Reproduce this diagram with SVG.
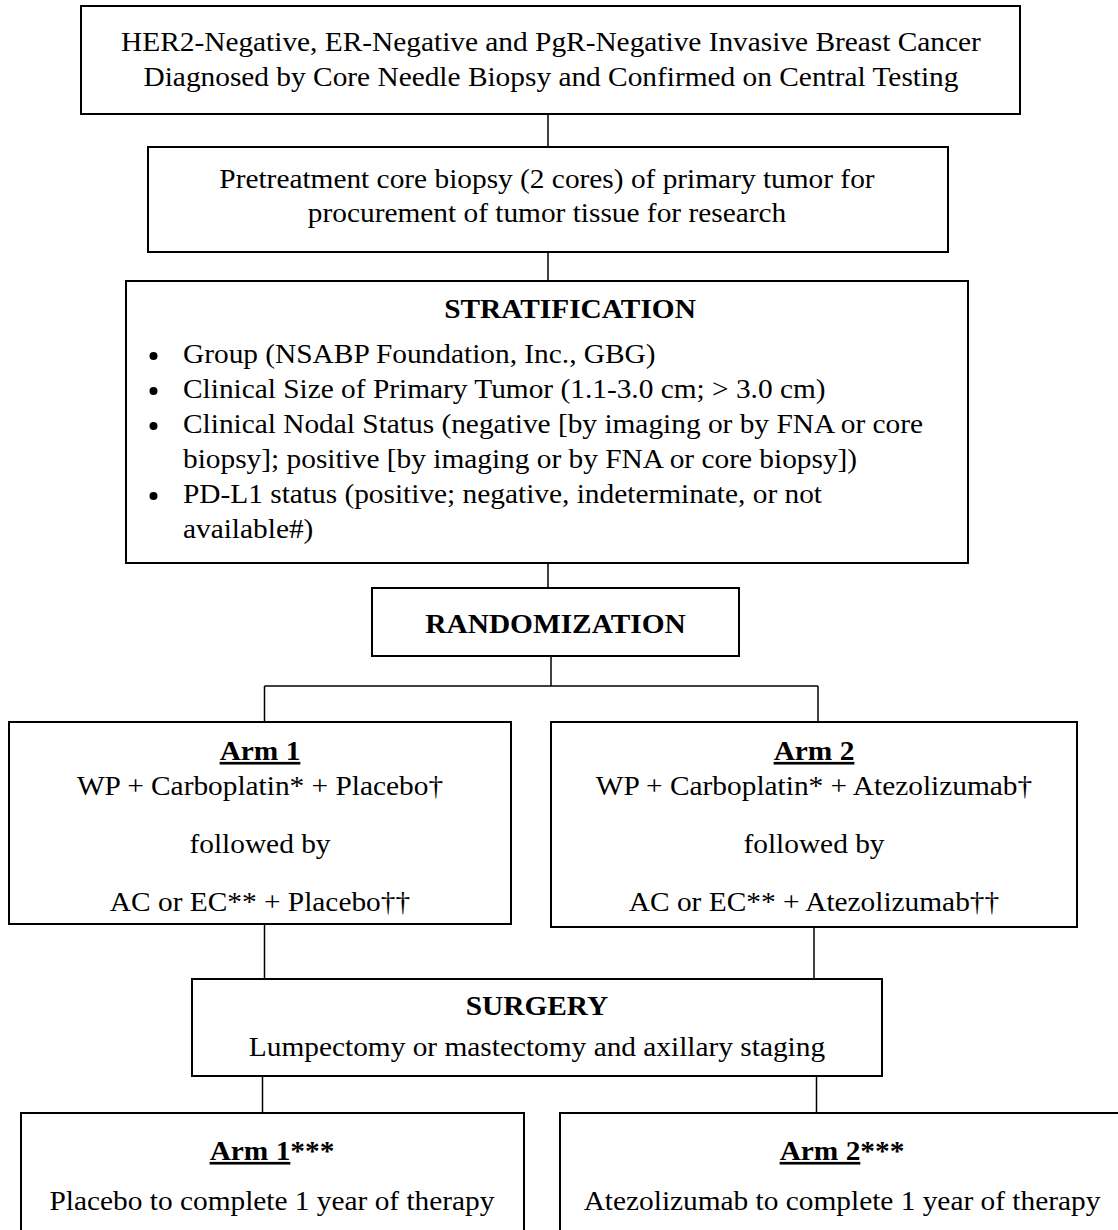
<svg xmlns="http://www.w3.org/2000/svg" width="1118" height="1230" viewBox="0 0 1118 1230">
<style>
.box{fill:#fff;stroke:#000;stroke-width:2}
.con line{stroke:#000;stroke-width:1.5}
text{font-family:"Liberation Serif","Times New Roman",serif;font-size:26.7px;fill:#000;transform-box:fill-box;transform:scaleX(1.10)}
.c{text-anchor:middle;transform-origin:center}
.l{text-anchor:start;transform-origin:left}
.b{font-weight:bold}
.u{text-decoration:underline;text-decoration-thickness:2.5px}
</style>
<rect width="1118" height="1230" fill="#fff"/>
<g class="con" id="connectors">
<line x1="548" y1="114" x2="548" y2="147"/>
<line x1="548" y1="252" x2="548" y2="281"/>
<line x1="548" y1="563" x2="548" y2="588"/>
<line x1="551" y1="656" x2="551" y2="686"/>
<line x1="264.5" y1="686" x2="818" y2="686"/>
<line x1="264.5" y1="686" x2="264.5" y2="722"/>
<line x1="818" y1="686" x2="818" y2="722"/>
<line x1="264.5" y1="924" x2="264.5" y2="979"/>
<line x1="814" y1="927" x2="814" y2="979"/>
<line x1="262.5" y1="1076" x2="262.5" y2="1113"/>
<line x1="816.5" y1="1076" x2="816.5" y2="1113"/>
</g>
<g id="eligibility">
<rect class="box" x="81" y="6" width="939" height="108"/>
<text class="c" x="551" y="51.5">HER2-Negative, ER-Negative and PgR-Negative Invasive Breast Cancer</text>
<text class="c" x="551" y="86.5">Diagnosed by Core Needle Biopsy and Confirmed on Central Testing</text>
</g>
<g id="pretreatment">
<rect class="box" x="148" y="147" width="800" height="105"/>
<text class="c" x="547" y="188">Pretreatment core biopsy (2 cores) of primary tumor for</text>
<text class="c" x="547" y="222">procurement of tumor tissue for research</text>
</g>
<g id="stratification">
<rect class="box" x="126" y="281" width="842" height="282"/>
<text class="c b" x="570" y="318">STRATIFICATION</text>
<circle cx="153.5" cy="356" r="4"/>
<text class="l" x="183" y="363">Group (NSABP Foundation, Inc., GBG)</text>
<circle cx="153.5" cy="391" r="4"/>
<text class="l" x="183" y="398">Clinical Size of Primary Tumor (1.1-3.0 cm; &gt; 3.0 cm)</text>
<circle cx="153.5" cy="426" r="4"/>
<text class="l" x="183" y="433">Clinical Nodal Status (negative [by imaging or by FNA or core</text>
<text class="l" x="183" y="468">biopsy]; positive [by imaging or by FNA or core biopsy])</text>
<circle cx="153.5" cy="496" r="4"/>
<text class="l" x="183" y="503">PD-L1 status (positive; negative, indeterminate, or not</text>
<text class="l" x="183" y="538">available#)</text>
</g>
<g id="randomization">
<rect class="box" x="372" y="588" width="367" height="68"/>
<text class="c b" x="555.5" y="633">RANDOMIZATION</text>
</g>
<g id="arm1">
<rect class="box" x="9" y="722" width="502" height="202"/>
<text class="c b u" x="260" y="760">Arm 1</text>
<text class="c" x="260" y="795">WP + Carboplatin* + Placebo†</text>
<text class="c" x="260" y="853">followed by</text>
<text class="c" x="260" y="911.5">AC or EC** + Placebo††</text>
</g>
<g id="arm2">
<rect class="box" x="551" y="722" width="526" height="205"/>
<text class="c b u" x="814" y="760">Arm 2</text>
<text class="c" x="814" y="795">WP + Carboplatin* + Atezolizumab†</text>
<text class="c" x="814" y="853">followed by</text>
<text class="c" x="814" y="911.5">AC or EC** + Atezolizumab††</text>
</g>
<g id="surgery">
<rect class="box" x="192" y="979" width="690" height="97"/>
<text class="c b" x="537" y="1015">SURGERY</text>
<text class="c" x="537" y="1056.5">Lumpectomy or mastectomy and axillary staging</text>
</g>
<g id="post1">
<rect class="box" x="21" y="1113" width="503" height="150"/>
<text class="c b" x="272" y="1160"><tspan class="u">Arm 1</tspan>***</text>
<text class="c" x="272" y="1210">Placebo to complete 1 year of therapy</text>
</g>
<g id="post2">
<rect class="box" x="560" y="1113" width="570" height="150"/>
<text class="c b" x="842" y="1160"><tspan class="u">Arm 2</tspan>***</text>
<text class="c" x="842" y="1210">Atezolizumab to complete 1 year of therapy</text>
</g>
</svg>
